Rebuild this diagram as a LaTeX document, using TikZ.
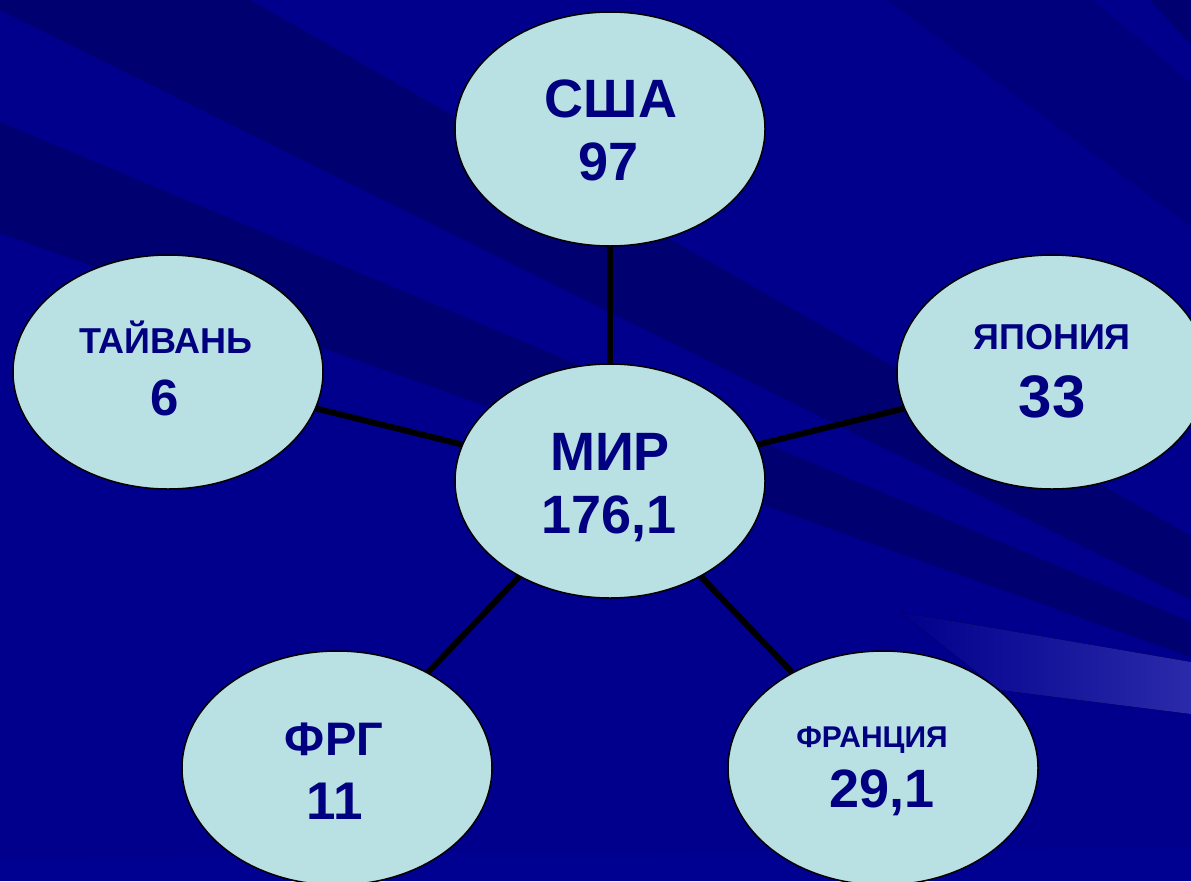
\documentclass[tikz,border=0pt]{standalone}
\usepackage{fontspec}
\setmainfont{Liberation Sans}
\usetikzlibrary{shapes.geometric}
\definecolor{bgbase}{HTML}{00008C}
\definecolor{bgdark}{HTML}{000070}
\definecolor{bgmid}{HTML}{00007C}
\definecolor{bglight}{HTML}{2A2AAA}
\definecolor{bgup}{HTML}{000096}
\definecolor{ellfill}{HTML}{B9E0E3}
\definecolor{txt}{HTML}{000080}
\begin{document}
\begin{tikzpicture}[x=1pt,y=-1pt,
  bubble/.style={ellipse, draw=black, line width=1.5pt, fill=ellfill,
    minimum width=310pt, minimum height=234pt, inner sep=0pt},
  lbl/.style={anchor=base, text=txt, inner sep=0pt},
  link/.style={draw=black, line width=6pt}]
\useasboundingbox (0,0) rectangle (1191,881);
% background
\fill[bgbase] (0,0) rectangle (1191,881);
\fill[bgdark] (0,0) -- (250,0) -- (1191,536) -- (1191,600) -- (0,10) -- cycle;
\fill[bgdark] (0,122) -- (1191,622) -- (1191,657) -- (0,233) -- cycle;
\fill[bgmid] (887,0) -- (1093,0) -- (1191,83) -- (1191,227) -- cycle;
\fill[bgdark] (1150,0) -- (1191,0) -- (1191,45) -- cycle;
\fill[left color=bgbase, right color=bglight] (900,612) -- (1191,662) -- (1191,714) -- (1000,690) -- cycle;
\fill[bgup, opacity=0.5] (0,858) -- (1191,848) -- (1191,881) -- (0,881) -- cycle;
% nodes
\node[bubble] (usa) at (610,129) {};
\node[bubble] (mir) at (610,481) {};
\node[bubble] (tai) at (168,372) {};
\node[bubble] (jap) at (1052,372) {};
\node[bubble] (frg) at (337,768) {};
\node[bubble] (fra) at (883,768) {};
% connectors
\draw[link] (mir) -- (usa);
\draw[link] (mir) -- (tai);
\draw[link] (mir) -- (jap);
\draw[link] (mir) -- (frg);
\draw[link] (mir) -- (fra);
% labels
\node[lbl, font=\bfseries\fontsize{54}{54}\selectfont] (usaA) at (611,117) {США};
\node[lbl, font=\bfseries\fontsize{54}{54}\selectfont] (usaB) at (609,180) {97};
\node[lbl, font=\bfseries\fontsize{54}{54}\selectfont] (mirA) at (610,470) {МИР};
\node[lbl, font=\bfseries\fontsize{54}{54}\selectfont] (mirB) at (609,533) {176,1};
\node[lbl, font=\bfseries\fontsize{36}{36}\selectfont] (taiA) at (166,353) {ТАЙВАНЬ};
\node[lbl, font=\bfseries\fontsize{51}{51}\selectfont] (taiB) at (165,415) {6};
\node[lbl, font=\bfseries\fontsize{36}{36}\selectfont] (japA) at (1052,349) {ЯПОНИЯ};
\node[lbl, font=\bfseries\fontsize{60}{60}\selectfont] (japB) at (1052,417) {33};
\node[lbl, font=\bfseries\fontsize{47}{47}\selectfont] (frgA) at (334,755) {ФРГ};
\node[lbl, font=\bfseries\fontsize{53}{53}\selectfont] (frgB) at (335,819) {11};
\node[lbl, font=\bfseries\fontsize{30}{30}\selectfont] (fraA) at (872,747) {ФРАНЦИЯ};
\node[lbl, font=\bfseries\fontsize{54}{54}\selectfont] (fraB) at (882,807) {29,1};
\end{tikzpicture}
\end{document}
